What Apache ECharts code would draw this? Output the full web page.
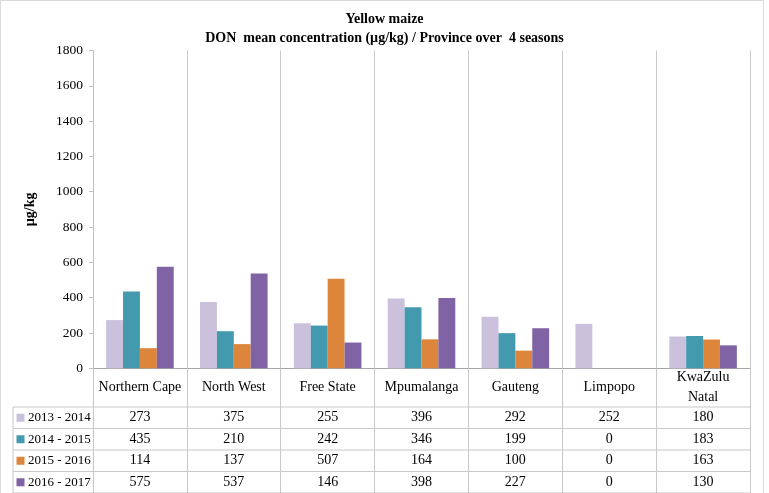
<!DOCTYPE html>
<html><head><meta charset="utf-8">
<script src="https://cdn.jsdelivr.net/npm/echarts@6/dist/echarts.min.js"></script>
<style>html,body{margin:0;padding:0;background:#fff}#c{width:769px;height:493px}</style>
</head><body><div id="c"></div>
<script>
const categories = ['Northern Cape','North West','Free State','Mpumalanga','Gauteng','Limpopo','KwaZulu\nNatal'];
const seasons = ['2013 - 2014','2014 - 2015','2015 - 2016','2016 - 2017'];
const s2013 = [273,375,255,396,292,252,180];
const s2014 = [435,210,242,346,199,0,183];
const s2015 = [114,137,507,164,100,0,163];
const s2016 = [575,537,146,398,227,0,130];
const yTicks = {min:0, max:1800, interval:200};
const colors = ['#cbc1dc','#4399ae','#dc853b','#8063a4'];
const seriesData = [s2013, s2014, s2015, s2016];

const FONT = '"Liberation Serif", serif';
const chart = echarts.init(document.getElementById('c'), null, {renderer:'canvas'});
const gridL = 93, gridR = 19, gridT = 50.5, gridB = 124.7;
chart.setOption({
  animation:false,
  textStyle:{fontFamily:FONT},
  title:{text:'Yellow maize\nDON  mean concentration (µg/kg) / Province over  4 seasons', left:'center', top:5,
    textStyle:{fontFamily:FONT, fontWeight:'bold', fontSize:14, lineHeight:19, color:'#000'}},
  grid:{left:gridL, right:gridR, top:gridT, bottom:gridB},
  xAxis:{type:'category', data:categories,
    axisLine:{lineStyle:{color:'#a6a6a6'}},
    axisTick:{show:true, length:125, lineStyle:{color:'#c8c8c8'}},
    splitLine:{show:true, lineStyle:{color:'#c8c8c8'}},
    axisLabel:{fontFamily:FONT, fontSize:14, color:'#000', margin:19, verticalAlign:'middle', lineHeight:20, interval:0}},
  yAxis:{type:'value', min:yTicks.min, max:yTicks.max, interval:yTicks.interval,
    name:'µg/kg', nameLocation:'middle', nameGap:56, nameRotate:90,
    nameTextStyle:{fontFamily:FONT, fontWeight:'bold', fontSize:14, color:'#000'},
    axisLine:{show:true, lineStyle:{color:'#bfbfbf'}},
    axisTick:{show:true, length:4, lineStyle:{color:'#bfbfbf'}},
    splitLine:{show:false},
    axisLabel:{fontFamily:FONT, fontSize:13.5, color:'#000', margin:10, formatter:v=>String(v)}},
  series: seriesData.map((d,i)=>({type:'bar', name:seasons[i], data:d, barGap:'0%', barCategoryGap:'28%',
    itemStyle:{color:colors[i]}}))
});

function buildTable(){
  const g = [];
  const x0 = chart.convertToPixel({xAxisIndex:0}, 0);
  const step = chart.convertToPixel({xAxisIndex:0}, 1) - x0;
  const left = x0 - step/2;
  const right = left + step*categories.length;
  const legL = 13;
  const rowY = [407, 428.5, 450, 471.5, 493];
  g.push({type:'rect', shape:{x:0.5,y:0.5,width:763,height:500}, style:{fill:'none', stroke:'#d9d9d9'}, silent:true});
  rowY.forEach(y=>{
    g.push({type:'line', shape:{x1:legL, y1:y, x2:right, y2:y}, style:{stroke:'#c8c8c8', lineWidth:1}, silent:true});
  });
  g.push({type:'line', shape:{x1:legL, y1:rowY[0], x2:legL, y2:493}, style:{stroke:'#c8c8c8', lineWidth:1}, silent:true});
  seasons.forEach((s,r)=>{
    const cy = (rowY[r]+rowY[r+1])/2;
    g.push({type:'rect', shape:{x:16.5, y:cy-4, width:8, height:8}, style:{fill:colors[r]}, silent:true});
    g.push({type:'text', x:28, y:cy, style:{text:s, font:'13px '+FONT, fill:'#000', textVerticalAlign:'middle', verticalAlign:'middle'}, silent:true});
    seriesData[r].forEach((v,c)=>{
      const cx = chart.convertToPixel({xAxisIndex:0}, c);
      g.push({type:'text', x:cx, y:cy, style:{text:String(v), font:'14px '+FONT, fill:'#000', align:'center', textAlign:'center', verticalAlign:'middle', textVerticalAlign:'middle'}, silent:true});
    });
  });
  chart.setOption({graphic:{elements:g}});
}
buildTable();
</script></body></html>
